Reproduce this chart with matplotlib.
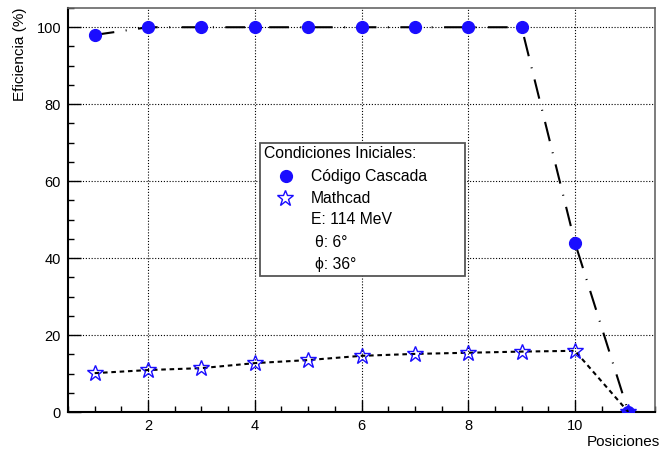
import matplotlib
matplotlib.use('Agg')
import matplotlib.pyplot as plt
from matplotlib.lines import Line2D
from matplotlib.patches import Rectangle
from matplotlib.ticker import MultipleLocator

## data
posiciones = [1, 2, 3, 4, 5, 6, 7, 8, 9, 10, 11]
cascada = [98, 100, 100, 100, 100, 100, 100, 100, 100, 44, 0]
mathcad = [10.1, 10.9, 11.4, 12.7, 13.5, 14.6, 15.1, 15.4, 15.7, 15.9, 0]
x_ticks = [2, 4, 6, 8, 10]
y_ticks = [0, 20, 40, 60, 80, 100]
leyenda_titulo = 'Condiciones Iniciales:'
leyenda_series = ['Código Cascada', 'Mathcad']
leyenda_extra = ['E: 114 MeV', 'θ: 6°', 'ϕ: 36°']

plt.rcParams['font.family'] = ['Liberation Sans', 'DejaVu Sans']

W, H = 660, 454
fig = plt.figure(figsize=(W/100, H/100), dpi=100)
ax = fig.add_axes([68/W, 1-412/H, 587/W, 404/H])

def fx(px):
	return px/W
def fy(py):
	return 1-py/H

azul = '#1a0dff'

ax.plot(posiciones, cascada, color='black', lw=1.5, dashes=(9.5, 5.5, 0.5, 5.5),
	marker='o', ms=8.5, mfc=azul, mec=azul, zorder=3)
ax.plot(posiciones, mathcad, color='black', lw=1.5, dashes=(2.2, 1.8),
	marker='*', ms=12, mfc='none', mec=azul, mew=1.0, zorder=3)

ax.set_xlim(0.5, 11.5)
ax.set_ylim(0, 105)
ax.set_xticks(x_ticks)
ax.set_yticks(y_ticks)
ax.xaxis.set_minor_locator(MultipleLocator(0.5))
ax.yaxis.set_minor_locator(MultipleLocator(5))
ax.tick_params(which='both', direction='in', labelsize=10.5, color='black')
ax.tick_params(which='major', length=9, width=1, pad=5)
ax.tick_params(which='minor', length=4.5, width=1)
ax.grid(True, which='major', color='black', lw=0.8, linestyle=(0, (1, 1.6)))

for s in ['top', 'right']:
	ax.spines[s].set_color('#666666')
	ax.spines[s].set_linewidth(1.2)
for s in ['left', 'bottom']:
	ax.spines[s].set_color('black')
	ax.spines[s].set_linewidth(1.5)

ax.set_ylabel('Eficiencia (%)', fontsize=11, loc='top')
ax.yaxis.set_label_coords((20-68)/587, 1.0)
ax.yaxis.label.set_va('center')
ax.set_xlabel('Posiciones', fontsize=11, loc='right')
ax.xaxis.set_label_coords((660-68)/587, (412-442)/404)
ax.xaxis.label.set_va('center')

## legend box drawn by hand (ROOT style)
fig.add_artist(Rectangle((fx(260), fy(276)), fx(465)-fx(260), fy(143)-fy(276),
	transform=fig.transFigure, facecolor='white', edgecolor='#555555', lw=1.3, zorder=5))
fig.text(fx(264), fy(154), leyenda_titulo, fontsize=11.3, va='center', ha='left', zorder=6)
fig.add_artist(Line2D([fx(285.5)], [fy(176)], transform=fig.transFigure, marker='o',
	ms=8.5, mfc=azul, mec=azul, ls='none', zorder=6))
fig.add_artist(Line2D([fx(285)], [fy(198)], transform=fig.transFigure, marker='*',
	ms=12, mfc='none', mec=azul, mew=1.0, ls='none', zorder=6))
ys = [176, 198]
for lab, py in zip(leyenda_series, ys):
	fig.text(fx(311), fy(py), lab, fontsize=11.3, va='center', ha='left', zorder=6)
for lab, px, py in zip(leyenda_extra, [311, 315, 315], [220, 242, 264]):
	fig.text(fx(px), fy(py), lab, fontsize=11.3, va='center', ha='left', zorder=6)

fig.savefig('out.png', dpi=100)
